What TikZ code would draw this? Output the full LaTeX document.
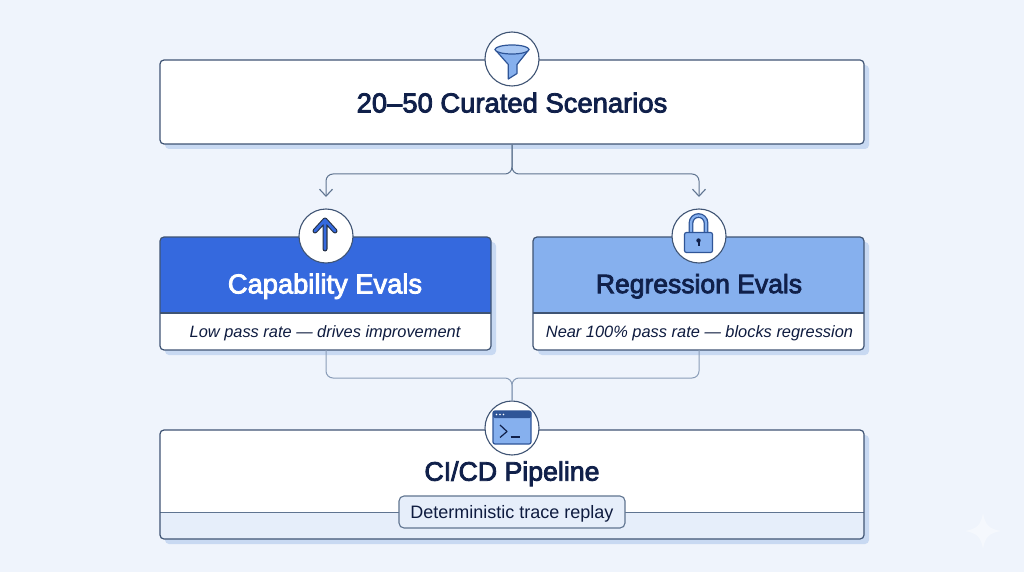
\documentclass[tikz,border=0pt]{standalone}
\usepackage{fontspec}
\setmainfont{Liberation Sans}
\newfontfamily\headfont[FakeBold=3]{Liberation Sans}
\usetikzlibrary{arrows.meta}
\definecolor{bgc}{HTML}{EFF4FC}
\definecolor{shadowc}{HTML}{C8D9F2}
\definecolor{edgec}{HTML}{3F5474}
\definecolor{connc}{HTML}{5F7490}
\definecolor{connlightc}{HTML}{8A9DB8}
\definecolor{inkc}{HTML}{10204A}
\definecolor{bluec}{HTML}{3569DE}
\definecolor{lightc}{HTML}{86B0EE}
\definecolor{iconc}{HTML}{2F5597}
\definecolor{bandc}{HTML}{E6EEFA}
\tikzset{
  x=1pt,y=-1pt,
  boxedge/.style={draw=edgec,line width=1.2pt,rounded corners=4pt},
  shade box/.style={fill=shadowc,rounded corners=4pt},
  badge/.style={circle,draw=edgec,fill=white,line width=1.1pt,minimum size=54pt,inner sep=0pt},
  conn/.style={draw=connc,line width=1pt,rounded corners=7pt},
  barb/.style={-{Straight Barb[length=7pt,width=13pt,line width=1.1pt]}},
  title/.style={text=inkc,inner sep=0pt,text depth=0pt},
  note/.style={font=\itshape\fontsize{16.4}{18}\selectfont,text=inkc!85!black,inner sep=0pt,text depth=0pt},
  icon/.style={draw=iconc,line width=1.2pt,line join=round,fill=lightc},
}
\newcommand{\headsize}[1]{\headfont\fontsize{#1}{30}\selectfont}
\begin{document}
\begin{tikzpicture}
\useasboundingbox (0,0) rectangle (1024,572);
\fill[bgc] (0,0) rectangle (1024,572);
% watermark star
\fill[white,opacity=.4] (983,513) .. controls (985,525) and (989,529) .. (1001,531) .. controls (989,533) and (985,537) .. (983,549) .. controls (981,537) and (977,533) .. (965,531) .. controls (977,529) and (981,525) .. (983,513) -- cycle;
% shadows
\fill[shade box] (165,65) rectangle (869,149);
\fill[shade box] (165,242) rectangle (496,355);
\fill[shade box] (538,242) rectangle (869,355);
\fill[shade box] (165,435) rectangle (869,544);
% top box
\node[boxedge,fill=white,minimum width=704pt,minimum height=84pt,inner sep=0pt] (top) at (512,102) {};
% capability
\node[fill=white,rounded corners=4pt,minimum width=331pt,minimum height=113pt,inner sep=0pt] (capbox) at (325.5,293.5) {};
\fill[bluec,rounded corners=4pt] (160,313) -- (160,237) -- (491,237) -- (491,313);
\draw[edgec,line width=1.2pt] (160,313) -- (491,313);
\node[boxedge,minimum width=331pt,minimum height=113pt,inner sep=0pt] at (capbox) {};
% regression
\node[fill=white,rounded corners=4pt,minimum width=331pt,minimum height=113pt,inner sep=0pt] (regbox) at (698.5,293.5) {};
\fill[lightc,rounded corners=4pt] (533,313) -- (533,237) -- (864,237) -- (864,313);
\draw[edgec,line width=1.2pt] (533,313) -- (864,313);
\node[boxedge,minimum width=331pt,minimum height=113pt,inner sep=0pt] at (regbox) {};
% ci box
\node[fill=white,rounded corners=4pt,minimum width=704pt,minimum height=109pt,inner sep=0pt] (cibox) at (512,484.5) {};
\fill[bandc,rounded corners=4pt] (160,512) -- (160,539) -- (864,539) -- (864,512);
\draw[connc,line width=1pt] (160,512) -- (864,512);
\node[boxedge,minimum width=704pt,minimum height=109pt,inner sep=0pt] at (cibox) {};
% connectors
\coordinate (busT) at (512,174);
\coordinate (tipL) at (326,197);
\coordinate (tipR) at (699,197);
\draw[conn,barb] (top.south) -- (busT) -- (busT -| tipL) -- (tipL);
\draw[conn,barb] (top.south) -- (busT) -- (busT -| tipR) -- (tipR);
\coordinate (busB) at (512,378);
\coordinate (capS) at (326,350);
\coordinate (regS) at (699,350);
% badges
\node[badge] (bTop) at (512,59) {};
\node[badge] (bCap) at (326,236) {};
\node[badge] (bReg) at (699,236) {};
\node[badge] (bCI) at (512,428) {};
\draw[conn,draw=connlightc] (capS) -- (capS |- busB) -- (busB) -- (bCI.north);
\draw[conn,draw=connlightc] (regS) -- (regS |- busB) -- (busB) -- (bCI.north);
% funnel
\path[icon] (495,49.5) -- (508.3,64.5) -- (508.3,79) -- (517,73.5) -- (517,64.5) -- (529,49.5) -- cycle;
\path[icon,fill=lightc!70!white] (512,49.5) ellipse[x radius=17,y radius=4.5];
% arrow
\draw[edgec!60!black,line width=5pt,line cap=round,line join=round] (325,249) -- (325,220) (315,231) -- (325,220) -- (335,231);
\draw[bluec,line width=2.8pt,line cap=round,line join=round] (325,249) -- (325,220) (315,231) -- (325,220) -- (335,231);
% lock
\draw[iconc,line width=4.8pt] (691,233) -- (691,223) arc[start angle=180,end angle=360,radius=7.5] -- (706,233);
\draw[lightc,line width=2.2pt] (691,233) -- (691,223) arc[start angle=180,end angle=360,radius=7.5] -- (706,233);
\path[icon,rounded corners=2pt] (684.5,232.5) rectangle (712.5,252.5);
\fill[inkc] (698.5,240.5) circle[radius=2.2];
\fill[inkc] (697.5,241) rectangle (699.5,246);
% terminal
\path[icon,rounded corners=2pt] (493,411) rectangle (531,444);
\path[fill=iconc,rounded corners=1.5pt] (493,411) rectangle (531,418);
\fill[white] (496.5,414.5) circle[radius=.8] (500,414.5) circle[radius=.8] (503.5,414.5) circle[radius=.8];
\draw[inkc,line width=1.2pt,line join=round] (500,425) -- (507,431.5) -- (500,437.5);
\draw[inkc,line width=1.2pt] (510.5,437) -- (520,437);
% texts
\node[title,font=\headsize{27.4}] (tTop) at (512,102.5) {20–50 Curated Scenarios};
\node[title,text=white,font=\headsize{27.3}] (tCap) at (325,283.5) {Capability Evals};
\node[title,font=\headsize{26.5}] (tReg) at (699,283.5) {Regression Evals};
\node[note] (nCap) at (325,331.5) {Low pass rate — drives improvement};
\node[note] (nReg) at (699.5,331.5) {Near 100\% pass rate — blocks regression};
\node[title,font=\headsize{26.7}] (tCI) at (512,471) {CI/CD Pipeline};
\node[draw=connc,line width=1.1pt,fill=bandc,rounded corners=5pt,minimum width=226pt,minimum height=32pt,inner sep=0pt,text depth=0pt,font=\fontsize{18}{20}\selectfont,text=inkc!85!black] (pill) at (512,512) {Deterministic trace replay};
\end{tikzpicture}
\end{document}
